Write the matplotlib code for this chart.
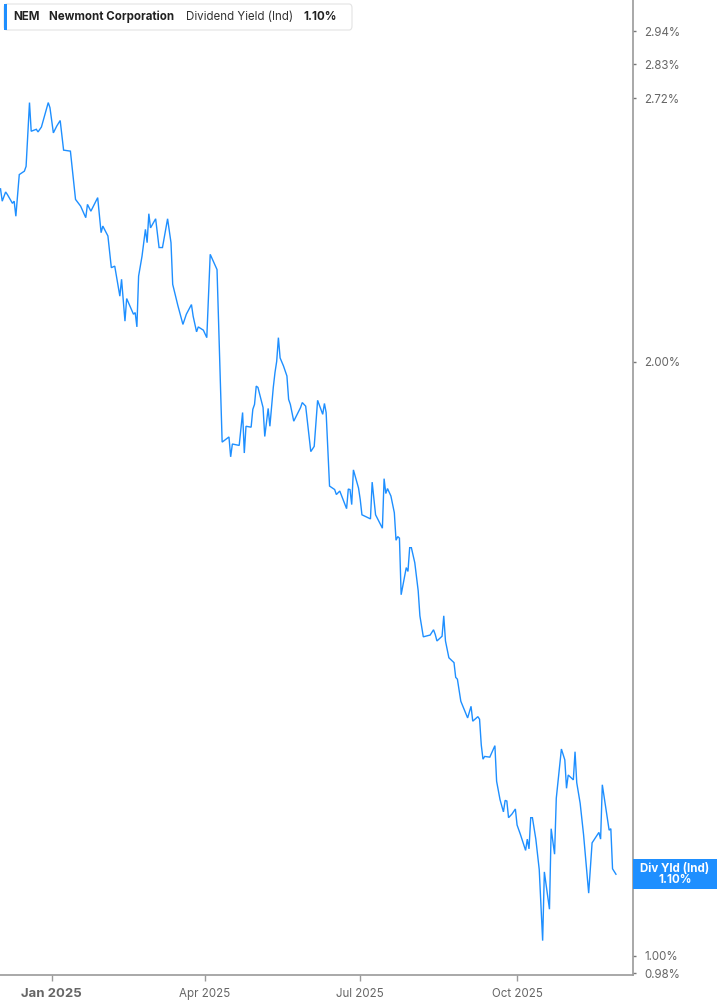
import matplotlib
matplotlib.use("Agg")
import matplotlib.pyplot as plt
from matplotlib.patches import FancyBboxPatch, Rectangle
from matplotlib.ticker import FixedLocator, NullLocator
import pandas as pd

plt.rcParams["font.family"] = ["Inter", "DejaVu Sans"]

# ---- data ------------------------------------------------------------------
dates = [
    "2024-12-02", "2024-12-03", "2024-12-05", "2024-12-06", "2024-12-09", "2024-12-10",
    "2024-12-11", "2024-12-13", "2024-12-16", "2024-12-17", "2024-12-19", "2024-12-20",
    "2024-12-23", "2024-12-24", "2024-12-26", "2024-12-30", "2024-12-31", "2025-01-02",
    "2025-01-04", "2025-01-06", "2025-01-08", "2025-01-12", "2025-01-15", "2025-01-18",
    "2025-01-21", "2025-01-22", "2025-01-24", "2025-01-28", "2025-01-30", "2025-01-31",
    "2025-02-03", "2025-02-05", "2025-02-07", "2025-02-10", "2025-02-11", "2025-02-13",
    "2025-02-14", "2025-02-18", "2025-02-19", "2025-02-20", "2025-02-21", "2025-02-23",
    "2025-02-25", "2025-02-26", "2025-02-27", "2025-02-28", "2025-03-03", "2025-03-05",
    "2025-03-07", "2025-03-10", "2025-03-12", "2025-03-13", "2025-03-16", "2025-03-19",
    "2025-03-21", "2025-03-24", "2025-03-25", "2025-03-27", "2025-03-28", "2025-03-31",
    "2025-04-02", "2025-04-04", "2025-04-08", "2025-04-11", "2025-04-15", "2025-04-16",
    "2025-04-17", "2025-04-21", "2025-04-23", "2025-04-24", "2025-04-25", "2025-04-28",
    "2025-04-29", "2025-04-30", "2025-05-01", "2025-05-02", "2025-05-05", "2025-05-06",
    "2025-05-08", "2025-05-09", "2025-05-11", "2025-05-12", "2025-05-13", "2025-05-14",
    "2025-05-15", "2025-05-17", "2025-05-19", "2025-05-20", "2025-05-21", "2025-05-23",
    "2025-05-27", "2025-05-28", "2025-05-30", "2025-06-02", "2025-06-04", "2025-06-06",
    "2025-06-09", "2025-06-10", "2025-06-11", "2025-06-13", "2025-06-16", "2025-06-17",
    "2025-06-19", "2025-06-23", "2025-06-24", "2025-06-25", "2025-06-26", "2025-06-27",
    "2025-06-30", "2025-07-01", "2025-07-02", "2025-07-07", "2025-07-08", "2025-07-10",
    "2025-07-14", "2025-07-15", "2025-07-16", "2025-07-17", "2025-07-19", "2025-07-21",
    "2025-07-22", "2025-07-23", "2025-07-24", "2025-07-25", "2025-07-28", "2025-07-29",
    "2025-07-30", "2025-07-31", "2025-08-02", "2025-08-04", "2025-08-05", "2025-08-07",
    "2025-08-11", "2025-08-13", "2025-08-14", "2025-08-15", "2025-08-18", "2025-08-19",
    "2025-08-20", "2025-08-22", "2025-08-25", "2025-08-26", "2025-08-27", "2025-08-29",
    "2025-09-02", "2025-09-04", "2025-09-05", "2025-09-08", "2025-09-09", "2025-09-10",
    "2025-09-11", "2025-09-12", "2025-09-15", "2025-09-18", "2025-09-19", "2025-09-21",
    "2025-09-23", "2025-09-24", "2025-09-25", "2025-09-26", "2025-09-28", "2025-09-30",
    "2025-10-01", "2025-10-03", "2025-10-06", "2025-10-07", "2025-10-08", "2025-10-09",
    "2025-10-10", "2025-10-12", "2025-10-14", "2025-10-16", "2025-10-17", "2025-10-20",
    "2025-10-21", "2025-10-23", "2025-10-24", "2025-10-27", "2025-10-29", "2025-10-30",
    "2025-10-31", "2025-11-03", "2025-11-04", "2025-11-05", "2025-11-07", "2025-11-09",
    "2025-11-12", "2025-11-14", "2025-11-18", "2025-11-19", "2025-11-20", "2025-11-24",
    "2025-11-25", "2025-11-26", "2025-11-28",
]
div_yield = [
    2.447, 2.412, 2.438, 2.431, 2.406, 2.412,
    2.370, 2.488, 2.498, 2.512, 2.706, 2.617,
    2.623, 2.615, 2.630, 2.706, 2.690, 2.612,
    2.633, 2.650, 2.560, 2.557, 2.417, 2.398,
    2.366, 2.403, 2.384, 2.422, 2.325, 2.343,
    2.316, 2.232, 2.236, 2.159, 2.202, 2.097,
    2.153, 2.114, 2.118, 2.083, 2.210, 2.262,
    2.334, 2.298, 2.377, 2.338, 2.363, 2.285,
    2.285, 2.363, 2.298, 2.189, 2.136, 2.089,
    2.114, 2.138, 2.109, 2.071, 2.083, 2.075,
    2.057, 2.267, 2.227, 1.821, 1.832, 1.790,
    1.817, 1.814, 1.885, 1.798, 1.855, 1.853,
    1.892, 1.903, 1.944, 1.941, 1.896, 1.833,
    1.894, 1.855, 1.941, 1.975, 2.001, 2.057,
    2.009, 1.990, 1.967, 1.914, 1.903, 1.866,
    1.896, 1.907, 1.899, 1.801, 1.812, 1.912,
    1.881, 1.905, 1.885, 1.730, 1.723, 1.713,
    1.720, 1.685, 1.724, 1.723, 1.693, 1.763,
    1.726, 1.703, 1.673, 1.665, 1.738, 1.673,
    1.647, 1.745, 1.715, 1.725, 1.710, 1.677,
    1.624, 1.631, 1.628, 1.524, 1.573, 1.566,
    1.610, 1.610, 1.582, 1.531, 1.487, 1.451,
    1.454, 1.463, 1.455, 1.444, 1.452, 1.487,
    1.444, 1.416, 1.408, 1.384, 1.381, 1.346,
    1.320, 1.338, 1.315, 1.322, 1.318, 1.279,
    1.258, 1.262, 1.261, 1.278, 1.226, 1.200,
    1.183, 1.199, 1.198, 1.175, 1.180, 1.187,
    1.165, 1.152, 1.131, 1.146, 1.133, 1.175,
    1.175, 1.146, 1.106, 1.018, 1.103, 1.056,
    1.160, 1.126, 1.202, 1.273, 1.257, 1.216,
    1.235, 1.228, 1.269, 1.224, 1.195, 1.152,
    1.076, 1.141, 1.155, 1.146, 1.221, 1.158,
    1.160, 1.107, 1.100,
]
y_ticks = [0.98, 1.00, 2.00, 2.72, 2.83, 2.94]
x_ticks = ["2025-01-01", "2025-04-01", "2025-07-01", "2025-10-01"]
x_tick_labels = ["Jan 2025", "Apr 2025", "Jul 2025", "Oct 2025"]
ticker, company, metric, last_value = "NEM", "Newmont Corporation", "Dividend Yield (Ind)", 1.10

# ---- figure ------------------------------------------------------------------
W, H = 717, 1005
blue = "#1e8fff"
grey = "#9a9a9a"
fig = plt.figure(figsize=(W / 100, H / 100), dpi=100)
ax = fig.add_axes([0, 30 / H, 633 / W, 975 / H])

ax.plot(pd.to_datetime(dates), div_yield, color=blue, lw=1.0, solid_joinstyle="miter")

ax.set_yscale("log")
ax.set_ylim(0.978, 3.05)
ax.set_xlim(pd.Timestamp("2024-12-02") - pd.Timedelta(days=0.3), pd.Timestamp("2025-12-08"))

ax.yaxis.set_major_locator(FixedLocator(y_ticks))
ax.yaxis.set_minor_locator(NullLocator())
ax.set_yticklabels([f"{v:.2f}%" for v in y_ticks])
ax.yaxis.tick_right()
ax.tick_params(axis="y", length=2, width=1, color="#777777", pad=6,
               labelsize=8.3, labelcolor="#666666")

ax.set_xticks(pd.to_datetime(x_ticks))
ax.set_xticklabels(x_tick_labels)
ax.tick_params(axis="x", length=4, width=1, color=grey, pad=5,
               labelsize=8.3, labelcolor="#666666")
ax.get_xticklabels()[0].set_fontweight("bold")
ax.get_xticklabels()[0].set_fontsize(9.5)

for side in ("left", "top"):
    ax.spines[side].set_visible(False)
for side in ("right", "bottom"):
    ax.spines[side].set_color(grey)
    ax.spines[side].set_linewidth(1.2)

# ---- header legend box -------------------------------------------------------
box = FancyBboxPatch((4 / W, 1 - 30 / H), 348 / W, 26 / H,
                     boxstyle="round,pad=0,rounding_size=0.004",
                     transform=fig.transFigure, facecolor="white",
                     edgecolor="#e3e3e3", lw=0.8, zorder=5)
fig.patches.append(box)
fig.patches.append(Rectangle((4 / W, 1 - 30 / H), 3 / W, 26 / H,
                             transform=fig.transFigure, facecolor=blue,
                             edgecolor="none", zorder=6))
ty = 1 - 17 / H
hdr = dict(fontsize=8.3, va="center", zorder=7)
fig.text(13 / W, ty, ticker, fontweight="bold", color="#222222", **hdr)
fig.text(49 / W, ty, company, fontweight="bold", color="#222222", **hdr)
fig.text(186 / W, ty, metric, color="#333333", **hdr)
fig.text(303 / W, ty, f"{last_value:.2f}%", fontweight="bold", color="#222222", **hdr)

# ---- last value tag ----------------------------------------------------------
y_last = ax.transData.transform((0, last_value))[1]
fig.patches.append(Rectangle((633 / W, (y_last - 15) / H), 84 / W, 30 / H,
                             transform=fig.transFigure, facecolor=blue,
                             edgecolor="none", zorder=6))
fig.text(675 / W, (y_last + 5.5) / H, "Div Yld (Ind)", fontsize=8.3, fontweight="bold",
         color="white", ha="center", va="center", zorder=7)
fig.text(675 / W, (y_last - 6) / H, f"{last_value:.2f}%", fontsize=8.3, fontweight="bold",
         color="white", ha="center", va="center", zorder=7)

fig.savefig("out.png", dpi=100)
